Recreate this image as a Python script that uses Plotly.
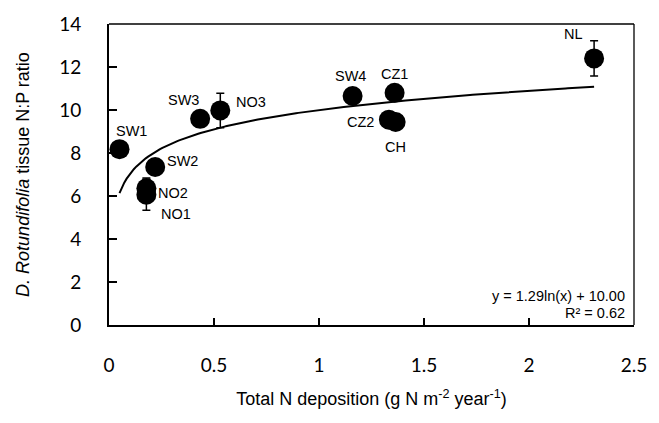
import numpy as np
import plotly.graph_objects as go

sites = ["SW1", "SW2", "NO2", "NO1", "SW3", "NO3", "SW4", "CZ1", "CZ2", "CH", "NL"]
n_dep = [0.05, 0.22, 0.178, 0.178, 0.434, 0.53, 1.16, 1.36, 1.333, 1.365, 2.31]
np_ratio = [8.18, 7.35, 6.36, 6.06, 9.59, 9.98, 10.65, 10.8, 9.55, 9.44, 12.4]
np_err = [0, 0, 0.48, 0.72, 0, 0.8, 0, 0, 0, 0, 0.82]

# label positions (data coords)
label_x = [0.106, 0.35, 0.307, 0.32, 0.354, 0.675, 1.15, 1.36, 1.198, 1.363, 2.21]
label_y = [9.01, 7.64, 6.14, 5.18, 10.45, 10.36, 11.59, 11.68, 9.45, 8.27, 13.55]

a_coef = 1.29
b_coef = 10.00
r2 = 0.62
fit_x = np.linspace(min(n_dep), max(n_dep), 200)
fit_y = a_coef * np.log(fit_x) + b_coef

fig = go.Figure()
fig.add_trace(go.Scatter(x=fit_x, y=fit_y, mode="lines",
                         line=dict(color="black", width=2), hoverinfo="skip"))
fig.add_trace(go.Scatter(
    x=n_dep, y=np_ratio, mode="markers",
    marker=dict(color="black", size=20),
    error_y=dict(type="data", array=np_err, visible=True, color="black",
                 thickness=1.5, width=4),
))

lab_font = dict(family="Liberation Sans, Arial", size=14.5, color="black")
for s, lx, ly in zip(sites, label_x, label_y):
    fig.add_annotation(x=lx, y=ly, text=s, showarrow=False, font=lab_font)

eq_font = dict(family="Liberation Sans, Arial", size=14.5, color="black")
fig.add_annotation(xref="paper", yref="paper", x=0.987, y=0.097, xanchor="right", yanchor="middle",
                   text=f"y = {a_coef:.2f}ln(x) + {b_coef:.2f}", showarrow=False, font=eq_font)
fig.add_annotation(xref="paper", yref="paper", x=0.987, y=0.039, xanchor="right", yanchor="middle",
                   text=f"R² = {r2:.2f}", showarrow=False, font=eq_font)

# top and right frame
fig.add_shape(type="line", xref="paper", yref="paper", x0=0, x1=1, y0=1, y1=1,
              line=dict(color="black", width=1.3))
fig.add_shape(type="line", xref="paper", yref="paper", x0=1, x1=1, y0=0, y1=1,
              line=dict(color="black", width=1.3))

tick_font = dict(family="Lato, Open Sans", size=19, color="black")
title_font = dict(family="Liberation Sans, Arial", size=18, color="black")
fig.update_xaxes(range=[0, 2.5], tickvals=[0, 0.5, 1, 1.5, 2, 2.5],
                 ticktext=["0", "0.5", "1", "1.5", "2", "2.5"],
                 showgrid=False, zeroline=False, showline=True, linecolor="black", linewidth=2,
                 ticks="inside", ticklen=7, tickwidth=1.5, tickcolor="black",
                 tickfont=tick_font, ticklabelstandoff=22,
                 title=dict(text="Total N deposition (g N m<sup>-2</sup> year<sup>-1</sup>)",
                            font=title_font, standoff=18))
fig.update_yaxes(range=[0, 14], tickvals=[0, 2, 4, 6, 8, 10, 12, 14],
                 showgrid=False, zeroline=False, showline=True, linecolor="black", linewidth=2,
                 ticks="inside", ticklen=8, tickwidth=1.5, tickcolor="black",
                 tickfont=tick_font, ticklabelstandoff=22,
                 title=dict(text="<i>D. Rotundifolia</i> tissue N:P ratio",
                            font=title_font, standoff=25))

fig.update_layout(width=659, height=423, margin=dict(l=109, r=20, t=17, b=98),
                  plot_bgcolor="white", paper_bgcolor="white", showlegend=False)

fig.write_html("out.html")
